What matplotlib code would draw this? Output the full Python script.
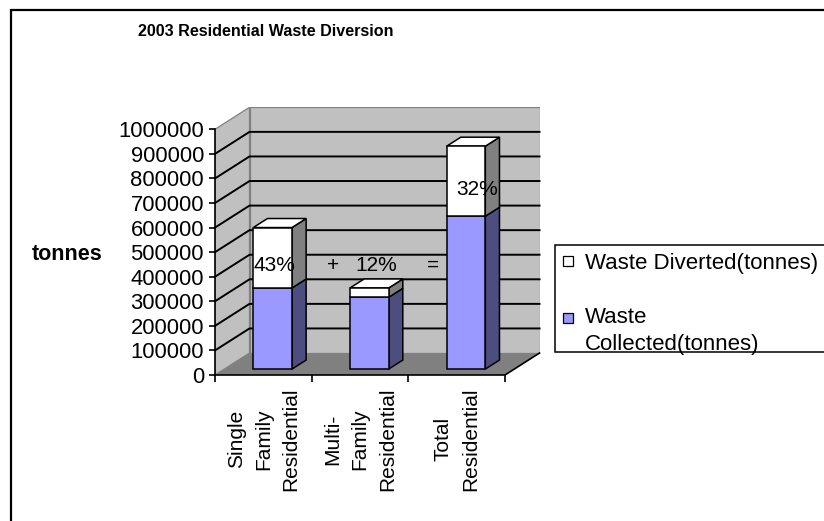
import numpy as np
import matplotlib
matplotlib.use("Agg")
import matplotlib.pyplot as plt
from matplotlib.patches import Polygon, Rectangle

# data
categories = ["Single\nFamily\nResidential", "Multi-\nFamily\nResidential", "Total\nResidential"]
collected = [330000, 292000, 622000]
diverted = [246000, 38000, 285000]
pct_labels = ["43%", "12%", "32%"]
series_names = ["Waste Diverted(tonnes)", "Waste\nCollected(tonnes)"]
yticks = list(range(0, 1000001, 100000))

plt.rcParams['font.family'] = ['Liberation Sans', 'DejaVu Sans']

W, H = 824, 521
fig = plt.figure(figsize=(W / 100, H / 100), dpi=100)


def fx(px):
    return px / W


def fy(py):
    return 1 - py / H


n = len(categories)
YMAX = yticks[-1]
DX = 0.357      # depth offset, in category units
DY = 89500      # depth offset, in value units
BW = 0.40       # bar front width
d0, d1 = 0.27, 0.68   # bar depth span (fraction of full depth)
dd = d1 - d0

ax = fig.add_axes([fx(215), fy(375), 96.67 * (n + DX) / W, 245.7e-6 * (YMAX + DY) / H])
ax.set_xlim(0, n + DX)
ax.set_ylim(0, YMAX + DY)
ax.patch.set_visible(False)

wall_c = '#c0c0c0'
edge_c = '#808080'
# walls and floor
ax.add_patch(Polygon([(0, 0), (DX, DY), (DX, YMAX + DY), (0, YMAX)],
                     fc=wall_c, ec=edge_c, lw=0.9, zorder=0))
ax.add_patch(Polygon([(DX, DY), (n + DX, DY), (n + DX, YMAX + DY), (DX, YMAX + DY)],
                     fc=wall_c, ec=edge_c, lw=0.9, zorder=0))
ax.add_patch(Polygon([(0, 0), (n, 0), (n + DX, DY), (DX, DY)],
                     fc='#808080', ec='none', zorder=0.5))

# gridlines on both walls
for v in yticks[1:-1]:
    ax.plot([0, DX, n + DX], [v, v + DY, v + DY], color='black', lw=1.4,
            zorder=1, clip_on=False)

ax.plot([n, n + DX], [0, DY], color='black', lw=1.2, zorder=1, clip_on=False)

# bars: front faces via ax.bar, sides and tops as parallelograms
xc = np.arange(n) + 0.5
front_x = xc + d0 * DX
base = d0 * DY
coll = np.array(collected)
div = np.array(diverted)
ax.bar(front_x, coll, width=BW, bottom=base, color='#9999ff', edgecolor='black',
       lw=1.1, zorder=4)
ax.bar(front_x, div, width=BW, bottom=base + coll, color='white', edgecolor='black',
       lw=1.1, zorder=4)

for i in range(n):
    xr = front_x[i] + BW / 2
    xl = front_x[i] - BW / 2
    segs = [(0, coll[i], '#4d4d80'), (coll[i], coll[i] + div[i], '#808080')]
    for lo, hi, c in segs:
        ax.add_patch(Polygon([(xr, base + lo), (xr + dd * DX, base + lo + dd * DY),
                              (xr + dd * DX, base + hi + dd * DY), (xr, base + hi)],
                             fc=c, ec='black', lw=1.1, zorder=3))
    top = base + coll[i] + div[i]
    ax.add_patch(Polygon([(xl, top), (xr, top), (xr + dd * DX, top + dd * DY),
                          (xl + dd * DX, top + dd * DY)],
                         fc='white', ec='black', lw=1.1, zorder=3))

# percentage notes
ax.text(0.61, 447700, pct_labels[0], ha='center', va='center', fontsize=15, zorder=6)
ax.text(1.221, 447700, "+", ha='center', va='center', fontsize=15, zorder=6)
ax.text(1.665, 447700, pct_labels[1], ha='center', va='center', fontsize=15, zorder=6)
ax.text(2.255, 447700, "=", ha='center', va='center', fontsize=15, zorder=6)
ax.text(2.71, 753000, pct_labels[2], ha='center', va='center', fontsize=15, zorder=6)

# axes
for s in ['top', 'right']:
    ax.spines[s].set_visible(False)
ax.spines['left'].set_bounds(0, YMAX)
ax.spines['bottom'].set_bounds(0, n)
for s in ['left', 'bottom']:
    ax.spines[s].set_linewidth(1.2)
    ax.spines[s].set_zorder(5)

ax.set_yticks(yticks)
ax.set_yticklabels([str(v) for v in yticks])
ax.tick_params(axis='y', length=4, width=1.2, pad=4, labelsize=15.8)

ax.set_xticks(range(n + 1))
ax.set_xticklabels([])
ax.set_xticks(xc, minor=True)
ax.set_xticklabels(categories, minor=True, rotation=90, fontsize=15,
                   linespacing=1.55, multialignment='center')
ax.tick_params(axis='x', which='major', length=5, width=1.2)
ax.tick_params(axis='x', which='minor', length=0, pad=9)

# titles
fig.text(fx(266), fy(32), "2003 Residential Waste Diversion", ha='center', va='center',
         fontsize=11.6, fontweight='bold')
fig.text(fx(67), fy(255), "tonnes", ha='center', va='center', fontsize=15.5,
         fontweight='bold')

# legend drawn by hand so the square sits by the first line
fig.add_artist(Rectangle((fx(555), fy(352)), 0.5, (352 - 245) / H, transform=fig.transFigure,
                         fc='white', ec='black', lw=1.1))
fig.add_artist(Rectangle((fx(563), fy(266)), 10 / W, 10 / H, transform=fig.transFigure,
                         fc='white', ec='black', lw=0.9))
fig.text(fx(585), fy(263), series_names[0], ha='left', va='center', fontsize=16)
fig.add_artist(Rectangle((fx(563), fy(323)), 10 / W, 10 / H, transform=fig.transFigure,
                         fc='#9999ff', ec='black', lw=0.9))
fig.text(fx(585), fy(307), series_names[1], ha='left', va='top', fontsize=16,
         linespacing=1.35)

# outer chart border
fig.add_artist(Rectangle((fx(11), -0.1), 1.2, fy(10) + 0.1, transform=fig.transFigure,
                         fill=False, ec='black', lw=1.6))

fig.savefig("out.png", dpi=100)
